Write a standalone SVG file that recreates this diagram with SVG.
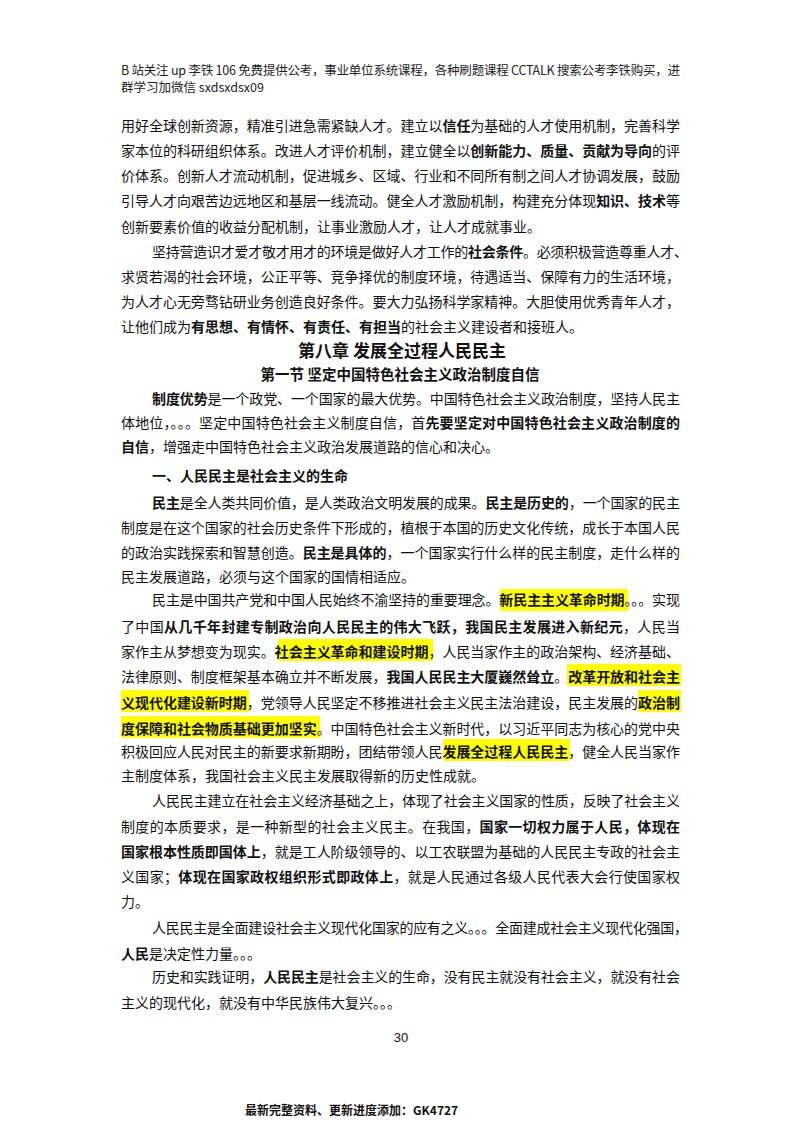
<svg xmlns="http://www.w3.org/2000/svg" width="800" height="1132" viewBox="0 0 800 1132">
<style>
text{font-family:"Noto Sans CJK SC","Noto Sans",sans-serif;fill:#111;font-size:14px}
.h{font-size:12.5px;fill:#222}
.b{font-weight:bold}
.t{font-weight:bold;font-size:17px;text-anchor:middle}
.s{font-weight:bold;font-size:14.5px;text-anchor:middle}
.hl{fill:#ffff00}
.pn{font-family:"Liberation Sans",sans-serif;font-size:13px;text-anchor:middle}
.ft{font-size:12px;font-weight:bold}
</style>
<rect width="800" height="1132" fill="#fff"/>
<g id="header">
<text class="h" x="121" y="75" textLength="559" lengthAdjust="spacing">B 站关注 up 李铁 106 免费提供公考，事业单位系统课程，各种刷题课程 CCTALK 搜索公考李铁购买，进</text>
<text class="h" x="121" y="92">群学习加微信 sxdsxdsx09</text>
</g>
<g id="highlights">
<rect class="hl" x="500" y="589" width="128" height="22"/>
<rect class="hl" x="278" y="639" width="155" height="22"/>
<rect class="hl" x="567" y="664" width="114" height="22"/>
<rect class="hl" x="121" y="690" width="128" height="22"/>
<rect class="hl" x="638" y="690" width="43" height="22"/>
<rect class="hl" x="121" y="716" width="199" height="22"/>
<rect class="hl" x="443" y="739" width="127" height="22"/>
</g>
<g id="p1">
<text x="121" y="131" textLength="559" lengthAdjust="spacing">用好全球创新资源，精准引进急需紧缺人才。建立以<tspan class="b">信任</tspan>为基础的人才使用机制，完善科学</text>
<text x="121" y="156" textLength="559" lengthAdjust="spacing">家本位的科研组织体系。改进人才评价机制，建立健全以<tspan class="b">创新能力、质量、贡献为导向</tspan>的评</text>
<text x="121" y="181" textLength="559" lengthAdjust="spacing">价体系。创新人才流动机制，促进城乡、区域、行业和不同所有制之间人才协调发展，鼓励</text>
<text x="121" y="206" textLength="559" lengthAdjust="spacing">引导人才向艰苦边远地区和基层一线流动。健全人才激励机制，构建充分体现<tspan class="b">知识、技术</tspan>等</text>
<text x="121" y="232">创新要素价值的收益分配机制，让事业激励人才，让人才成就事业。</text>
</g>
<g id="p2">
<text x="152" y="257" textLength="536" lengthAdjust="spacing">坚持营造识才爱才敬才用才的环境是做好人才工作的<tspan class="b">社会条件</tspan>。必须积极营造尊重人才、</text>
<text x="121" y="282" textLength="559" lengthAdjust="spacing">求贤若渴的社会环境，公正平等、竞争择优的制度环境，待遇适当、保障有力的生活环境，</text>
<text x="121" y="307" textLength="559" lengthAdjust="spacing">为人才心无旁骛钻研业务创造良好条件。要大力弘扬科学家精神。大胆使用优秀青年人才，</text>
<text x="121" y="332">让他们成为<tspan class="b">有思想、有情怀、有责任、有担当</tspan>的社会主义建设者和接班人。</text>
</g>
<g id="titles">
<text class="t" x="402" y="357">第八章 发展全过程人民民主</text>
<text class="s" x="400" y="380">第一节 坚定中国特色社会主义政治制度自信</text>
</g>
<g id="p3">
<text x="152" y="404" textLength="528" lengthAdjust="spacing"><tspan class="b">制度优势</tspan>是一个政党、一个国家的最大优势。中国特色社会主义政治制度，坚持人民主</text>
<text x="121" y="428" textLength="559" lengthAdjust="spacing">体地位，。。。坚定中国特色社会主义制度自信，首<tspan class="b">先要坚定对中国特色社会主义政治制度的</tspan></text>
<text x="121" y="452"><tspan class="b">自信</tspan>，增强走中国特色社会主义政治发展道路的信心和决心。</text>
<text class="b" x="152" y="481">一、人民民主是社会主义的生命</text>
</g>
<g id="p4">
<text x="152" y="508" textLength="528" lengthAdjust="spacing"><tspan class="b">民主</tspan>是全人类共同价值，是人类政治文明发展的成果。<tspan class="b">民主是历史的</tspan>，一个国家的民主</text>
<text x="121" y="533" textLength="559" lengthAdjust="spacing">制度是在这个国家的社会历史条件下形成的，植根于本国的历史文化传统，成长于本国人民</text>
<text x="121" y="558" textLength="559" lengthAdjust="spacing">的政治实践探索和智慧创造。<tspan class="b">民主是具体的</tspan>，一个国家实行什么样的民主制度，走什么样的</text>
<text x="121" y="582">民主发展道路，必须与这个国家的国情相适应。</text>
</g>
<g id="p5">
<text x="152" y="605" textLength="528" lengthAdjust="spacing">民主是中国共产党和中国人民始终不渝坚持的重要理念。<tspan class="b">新民主主义革命时期</tspan>。。。实现</text>
<text x="121" y="632" textLength="559" lengthAdjust="spacing">了中国<tspan class="b">从几千年封建专制政治向人民民主的伟大飞跃，我国民主发展进入新纪元</tspan>，人民当</text>
<text x="121" y="657" textLength="559" lengthAdjust="spacing">家作主从梦想变为现实。<tspan class="b">社会主义革命和建设时期</tspan>，人民当家作主的政治架构、经济基础、</text>
<text x="121" y="682" textLength="559" lengthAdjust="spacing">法律原则、制度框架基本确立并不断发展，<tspan class="b">我国人民民主大厦巍然耸立</tspan>。<tspan class="b">改革开放和社会主</tspan></text>
<text x="121" y="708" textLength="559" lengthAdjust="spacing"><tspan class="b">义现代化建设新时期</tspan>，党领导人民坚定不移推进社会主义民主法治建设，民主发展的<tspan class="b">政治制</tspan></text>
<text x="121" y="734" textLength="559" lengthAdjust="spacing"><tspan class="b">度保障和社会物质基础更加坚实</tspan>。中国特色社会主义新时代，以习近平同志为核心的党中央</text>
<text x="121" y="757" textLength="559" lengthAdjust="spacing">积极回应人民对民主的新要求新期盼，团结带领人民<tspan class="b">发展全过程人民民主</tspan>，健全人民当家作</text>
<text x="121" y="781">主制度体系，我国社会主义民主发展取得新的历史性成就。</text>
</g>
<g id="p6">
<text x="152" y="806" textLength="528" lengthAdjust="spacing">人民民主建立在社会主义经济基础之上，体现了社会主义国家的性质，反映了社会主义</text>
<text x="121" y="832" textLength="559" lengthAdjust="spacing">制度的本质要求，是一种新型的社会主义民主。在我国，<tspan class="b">国家一切权力属于人民，体现在</tspan></text>
<text x="121" y="857" textLength="559" lengthAdjust="spacing"><tspan class="b">国家根本性质即国体上</tspan>，就是工人阶级领导的、以工农联盟为基础的人民民主专政的社会主</text>
<text x="121" y="882" textLength="559" lengthAdjust="spacing">义国家；<tspan class="b">体现在国家政权组织形式即政体上</tspan>，就是人民通过各级人民代表大会行使国家权</text>
<text x="121" y="907">力。</text>
</g>
<g id="p7">
<text x="152" y="933" textLength="536" lengthAdjust="spacing">人民民主是全面建设社会主义现代化国家的应有之义。。。全面建成社会主义现代化强国，</text>
<text x="121" y="959"><tspan class="b">人民</tspan>是决定性力量。。。</text>
</g>
<g id="p8">
<text x="152" y="982" textLength="528" lengthAdjust="spacing">历史和实践证明，<tspan class="b">人民民主</tspan>是社会主义的生命，没有民主就没有社会主义，就没有社会</text>
<text x="121" y="1008">主义的现代化，就没有中华民族伟大复兴。。。</text>
</g>
<g id="footer">
<text class="pn" x="401" y="1042">30</text>
<text class="ft" x="245" y="1115">最新完整资料、更新进度添加：GK4727</text>
</g>
</svg>
